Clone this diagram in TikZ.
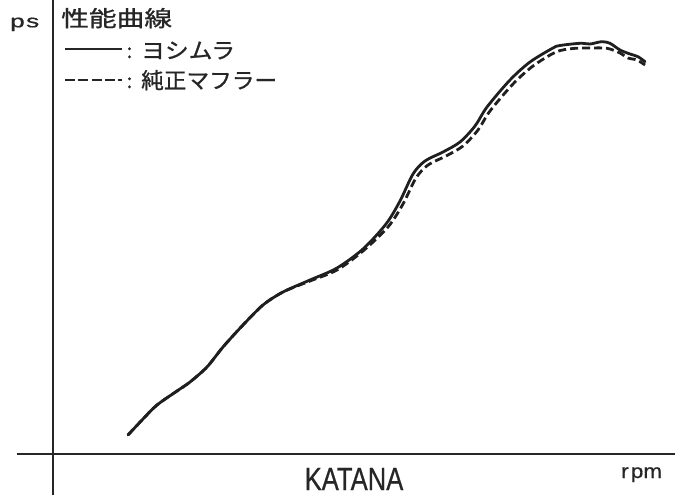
\documentclass[tikz,border=0pt]{standalone}
\usepackage{fontspec}
\setmainfont{Liberation Sans}
\newfontfamily\jpfont[FakeBold=0.9]{Noto Sans CJK JP}
\newfontfamily\boldsans[FakeBold=0.6]{Liberation Sans}
\begin{document}
\begin{tikzpicture}[x=1pt,y=-1pt,
  axisline/.style={line width=2.3pt, black!85},
  curvesolid/.style={line width=2.8pt, black!88, line cap=round, line join=round},
  curvedash/.style={line width=2.8pt, black!88, dash pattern=on 8pt off 4pt, line join=round},
  lbl/.style={inner sep=0pt, anchor=base west, text=black!85}]
\useasboundingbox (0,0) rectangle (682,497);
\fill[white] (0,0) rectangle (682,497);
% axes
\coordinate (vt) at (53.3,0);
\coordinate (vb) at (53.3,495);
\coordinate (hl) at (17,454);
\coordinate (hr) at (675,454);
\draw[axisline] (vt) -- (vb);
\draw[axisline] (hl) -- (hr);
% labels
\node[lbl] (ps) at (10,27.3) {\boldsans\fontsize{18}{18}\selectfont\scalebox{1.45}[1]{p\kern1pt s}};
\node[lbl] (title) at (61,26.5) {\jpfont\fontsize{22}{22}\selectfont\scalebox{1.26}[1]{性能曲線}};
\coordinate (l1a) at (65,49);
\coordinate (l1b) at (122,49);
\draw[line width=2.2pt, black!85] (l1a) -- (l1b);
\coordinate (l2a) at (65,80);
\coordinate (l2b) at (121.7,80);
\draw[line width=2.2pt, black!85, dash pattern=on 10pt off 3.3pt] (l2a) -- (l2b);
\node[lbl] (c1) at (126.5,58) {\jpfont\fontsize{20}{20}\selectfont :};
\node[lbl] (c2) at (126.5,88) {\jpfont\fontsize{20}{20}\selectfont :};
\node[lbl] (yoshimura) at (141,58.5) {\jpfont\fontsize{22}{22}\selectfont\scalebox{1.08}[1]{ヨシムラ}};
\node[lbl] (junsei) at (141,88.5) {\jpfont\fontsize{22}{22}\selectfont\scalebox{1.03}[1]{純正マフラー}};
\node[inner sep=0pt, anchor=base, text=black!85] (katana) at (354,490) {\boldsans\fontsize{32}{32}\selectfont\scalebox{0.8}[1]{KATANA}};
\node[lbl] (rpm) at (621,478) {\boldsans\fontsize{20}{20}\selectfont\scalebox{1.12}[1]{r\kern2pt pm}};
% curves
\draw[curvedash] plot[smooth, tension=0.5] coordinates {
 (128,435) (143,419) (157,405) (177,391) (190,382) (207,367) (223,347) (243,325)
 (263,305) (283,292) (310,281) (337,270) (363,251) (388,227) (403,204) (416,178)
 (428,165) (446,156) (463,146) (478,130) (490,111) (513,84) (533,66) (556,52)
 (573,48.5) (590,48) (607,48.3) (620,53) (628,58) (637,60) (645,65)};
\draw[curvesolid] plot[smooth, tension=0.5] coordinates {
 (128,435) (143,419) (157,405) (177,391) (190,382) (207,367) (223,347) (243,325)
 (263,305) (283,292) (310,280) (337,268) (363,249) (386,224) (400,201) (413,174)
 (425,161) (443,152) (460,142) (475,126) (487,107) (510,80) (530,62) (553,48)
 (560,45.5) (580,43.3) (590,44) (601.7,41.7) (610,43.3) (620,50) (630,54) (638,56.7) (645,61.7)};
\end{tikzpicture}
\end{document}
